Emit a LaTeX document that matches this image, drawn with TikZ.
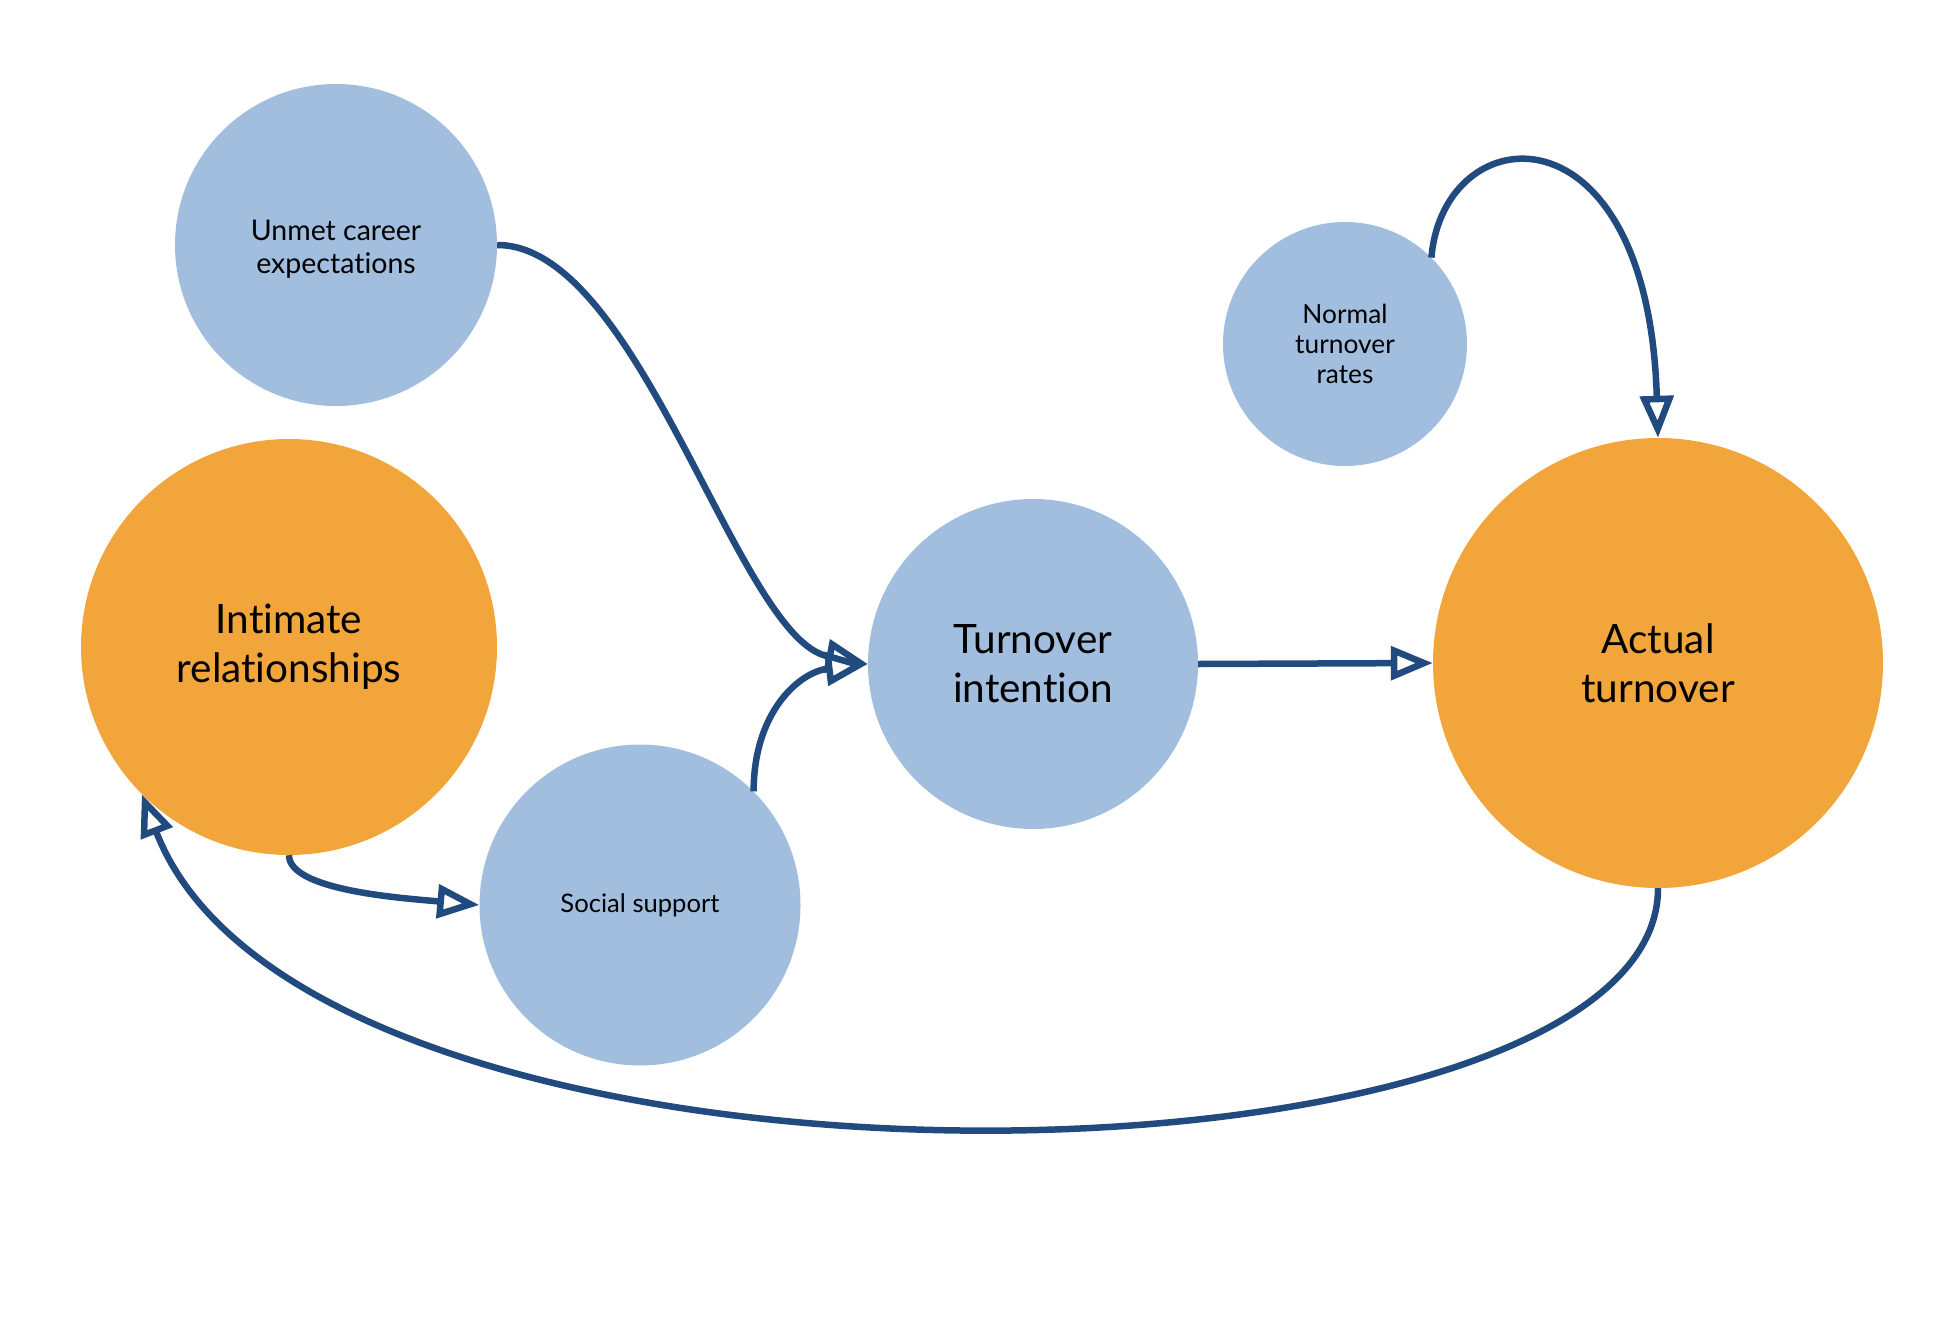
\documentclass[tikz,border=0pt]{standalone}
\usepackage{fontspec}
\setmainfont{Lato}[Ligatures=NoCommon]
\usetikzlibrary{arrows.meta}
\definecolor{cblue}{RGB}{162,190,222}
\definecolor{corange}{RGB}{242,165,58}
\definecolor{cline}{RGB}{33,74,126}
\begin{document}
\begin{tikzpicture}[x=1pt,y=-1pt,
  circ/.style={circle, inner sep=0pt, align=center, text=black},
  bluec/.style={circ, fill=cblue},
  orc/.style={circ, fill=corange},
  bigtxt/.style={font=\fontsize{40.5}{49}\selectfont},
  conn/.style={draw=cline, line width=6.5pt, -{Triangle[length=42pt,width=33pt,fill=white]}}
]
\useasboundingbox (0,0) rectangle (1935,1317);
\node[bluec, font=\fontsize{28.5}{33}\selectfont, minimum size=322pt] (unmet) at (336,245)
  {\raisebox{-5pt}[\height][\depth]{\begin{tabular}{@{}c@{}}Unmet career\\expectations\end{tabular}}};
\node[orc, bigtxt, minimum size=416pt] (intim) at (289,647) {Intimate\\relationships};
\node[bluec, font=\fontsize{25.6}{31}\selectfont, minimum size=321pt] (soc) at (640,905) {Social support};
\node[bluec, bigtxt, minimum size=330pt] (ti) at (1033,664) {Turnover\\intention};
\node[bluec, font=\fontsize{26.3}{30}\selectfont, minimum size=244pt] (norm) at (1345,344) {Normal\\turnover\\rates};
\node[orc, bigtxt, minimum size=450pt] (act) at (1658,663) {Actual\\turnover};

\draw[conn] (unmet.east) .. controls +(143,0) and +(-130,-25) .. (ti.west);
\draw[conn] (soc.45) .. controls +(0,-80) and +(-68,8) .. (ti.west);
\draw[conn] (ti.east) -- (act.west);
\draw[conn] (norm.45) .. controls +(12,-142) and +(-10,-340) .. (act.north);
\draw[conn] (intim.south) .. controls +(0,35) and +(-79,-7) .. (soc.west);
\draw[conn] (act.south) .. controls +(0,318) and +(170,441) .. (intim.225);
\end{tikzpicture}
\end{document}
